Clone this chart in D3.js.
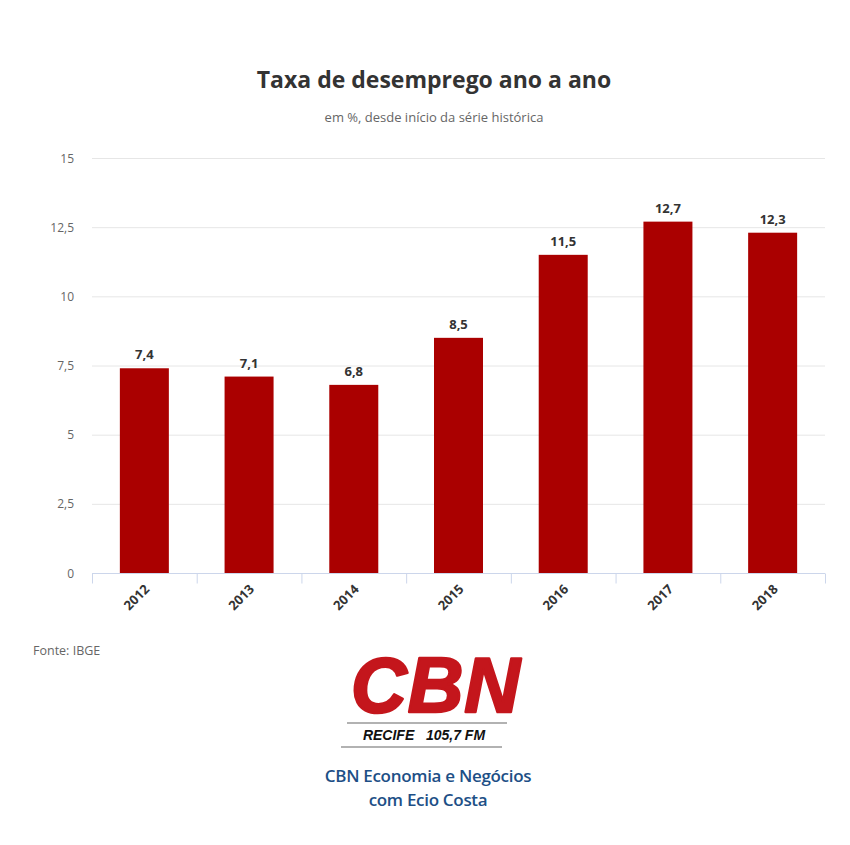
<!DOCTYPE html>
<html>
<head>
<meta charset="utf-8">
<script src="https://cdn.jsdelivr.net/npm/d3@7"></script>
<style>
html,body{margin:0;padding:0;background:#fff;}
svg{display:block;}
</style>
</head>
<body>
<script>
const years = ["2012","2013","2014","2015","2016","2017","2018"];
const rates = [7.4, 7.1, 6.8, 8.5, 11.5, 12.7, 12.3];
const yTicks = [0, 2.5, 5, 7.5, 10, 12.5, 15];
const yTickLabels = ["0","2,5","5","7,5","10","12,5","15"];
const titleText = "Taxa de desemprego ano a ano";
const subtitleText = "em %, desde início da série histórica";
const sourceText = "Fonte: IBGE";
const footerLines = ["CBN Economia e Negócios", "com Ecio Costa"];

(function () {
const W = 850, H = 845;
const svg = d3.select("body").append("svg").attr("width", W).attr("height", H);
const font = "'Open Sans', 'DejaVu Sans', sans-serif";

const pLeft = 92, pRight = 825, pTop = 158, pBottom = 573;
const x = d3.scaleBand().domain(years).range([pLeft, pRight]).paddingInner(0).paddingOuter(0);
const y = d3.scaleLinear().domain([0, 15]).range([pBottom, pTop]);

// Title & subtitle
svg.append("text").attr("x", 434).attr("y", 88).attr("text-anchor", "middle")
  .attr("font-family", font).attr("font-weight", 700).attr("font-size", 23).attr("fill", "#333")
  .text(titleText);
svg.append("text").attr("x", 434).attr("y", 122).attr("text-anchor", "middle")
  .attr("font-family", font).attr("font-size", 13).attr("fill", "#666")
  .text(subtitleText);

// Gridlines
svg.append("g").selectAll("line").data(yTicks.filter(d => d > 0)).join("line")
  .attr("x1", pLeft).attr("x2", pRight)
  .attr("y1", d => y(d) + 0.5).attr("y2", d => y(d) + 0.5)
  .attr("stroke", "#e6e6e6").attr("stroke-width", 1);

// Y axis labels
svg.append("g").selectAll("text").data(yTicks).join("text")
  .attr("x", 74).attr("y", d => y(d) + 4.5).attr("text-anchor", "end")
  .attr("font-family", font).attr("font-size", 12).attr("fill", "#666")
  .text((d, i) => yTickLabels[i]);

// Bars
const barW = 49;
svg.append("g").selectAll("rect").data(years).join("rect")
  .attr("x", d => x(d) + x.bandwidth() / 2 - barW / 2)
  .attr("y", (d, i) => y(rates[i]))
  .attr("width", barW)
  .attr("height", (d, i) => pBottom - y(rates[i]))
  .attr("fill", "#aa0000");

// Bar labels
svg.append("g").selectAll("text").data(years).join("text")
  .attr("x", d => x(d) + x.bandwidth() / 2)
  .attr("y", (d, i) => y(rates[i]) - 9)
  .attr("text-anchor", "middle")
  .attr("font-family", font).attr("font-weight", 700).attr("font-size", 13).attr("fill", "#333")
  .text((d, i) => String(rates[i]).replace(".", ","));

// X axis
const xAxis = d3.axisBottom(x).tickSize(0).tickFormat("");
const gx = svg.append("g").attr("transform", `translate(0,${pBottom + 0.5})`).call(xAxis);
gx.select(".domain").attr("stroke", "#ccd6eb").attr("d", `M${pLeft},0H${pRight}`);
gx.selectAll(".tick").remove();
const bounds = years.map(d => x(d)).concat([pRight]);
gx.selectAll("line.tm").data(bounds).join("line").attr("class", "tm")
  .attr("x1", d => d + 0.5).attr("x2", d => d + 0.5).attr("y1", 0).attr("y2", 10)
  .attr("stroke", "#ccd6eb");
svg.append("g").selectAll("text").data(years).join("text")
  .attr("transform", d => `translate(${x(d) + x.bandwidth() / 2 + 6},${pBottom + 17}) rotate(-45)`)
  .attr("text-anchor", "end")
  .attr("font-family", font).attr("font-weight", 700).attr("font-size", 13).attr("fill", "#333")
  .text(d => d);

// Source
svg.append("text").attr("x", 33).attr("y", 655)
  .attr("font-family", font).attr("font-size", 12.5).attr("fill", "#666")
  .text(sourceText);

// CBN logo
svg.append("text").attr("x", 436).attr("y", 712).attr("text-anchor", "middle")
  .attr("font-family", "'Liberation Sans', Arial, sans-serif").attr("font-weight", 700)
  .attr("font-style", "italic").attr("font-size", 77).attr("fill", "#c4161c")
  .attr("stroke", "#c4161c").attr("stroke-width", 2.5).attr("stroke-linejoin", "round")
  .attr("letter-spacing", 1)
  .text("CBN");
svg.append("line").attr("x1", 347).attr("x2", 507).attr("y1", 723).attr("y2", 723)
  .attr("stroke", "#666").attr("stroke-width", 1.2);
svg.append("text").attr("x", 424).attr("y", 740).attr("text-anchor", "middle")
  .attr("font-family", "'Liberation Sans', Arial, sans-serif").attr("font-weight", 700)
  .attr("font-style", "italic").attr("font-size", 14).attr("fill", "#111")
  .style("white-space", "pre")
  .text("RECIFE   105,7 FM");
svg.append("line").attr("x1", 341).attr("x2", 502).attr("y1", 747).attr("y2", 747)
  .attr("stroke", "#666").attr("stroke-width", 1.2);

// Footer
svg.append("g").selectAll("text").data(footerLines).join("text")
  .attr("x", 428).attr("y", (d, i) => 782 + i * 24).attr("text-anchor", "middle")
  .attr("font-family", font).attr("font-weight", 600).attr("font-size", 17).attr("fill", "#1d4f86")
  .attr("letter-spacing", -0.3)
  .text(d => d);
})();
</script>
</body>
</html>
